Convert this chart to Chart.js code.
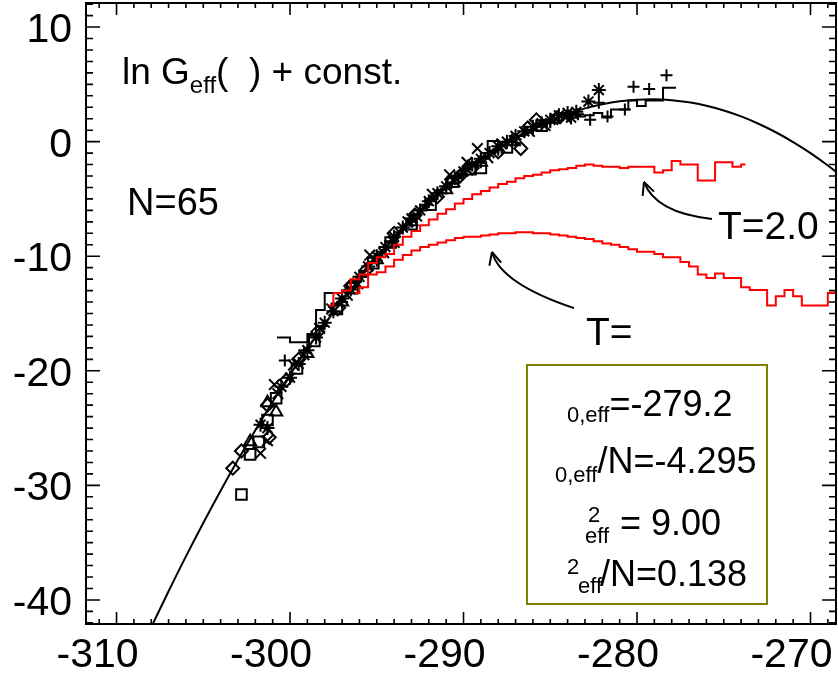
<!DOCTYPE html>
<html>
<head>
<meta charset="utf-8">
<script src="https://cdn.jsdelivr.net/npm/chart.js@4.4.0/dist/chart.umd.min.js"></script>
<style>
  html, body { margin: 0; padding: 0; background: #fff; }
  canvas { display: block; }
</style>
</head>
<body>
<canvas id="chart" width="838" height="679"></canvas>
<script>
// axis ticks
const xTicks = [-310, -300, -290, -280, -270];
const yTicks = [-40, -30, -20, -10, 0, 10];

// fitted gaussian curve
const curveX = [-308,-307,-306,-305,-304,-303,-302,-301,-300,-299,-298,-297,-296,-295,-294,-293,-292,-291,-290,-289,-288,-287,-286,-285,-284,-283,-282,-281,-280,-279,-278,-277,-276,-275,-274,-273,-272,-271,-270,-269,-268];
const curveY = [-42.38,-39.24,-36.20,-33.28,-30.47,-27.77,-25.18,-22.70,-20.34,-18.08,-15.94,-13.90,-11.98,-10.17,-8.47,-6.88,-5.40,-4.04,-2.78,-1.64,-0.60,0.32,1.13,1.83,2.42,2.90,3.26,3.52,3.66,3.70,3.62,3.43,3.13,2.72,2.20,1.56,0.82,-0.04,-1.00,-2.08,-3.27];

// black histogram (bin centres)
const histBlackX = [-300.75,-300.25,-299.75,-299.25,-298.75,-298.25,-297.75,-297.25,-296.75,-296.25,-295.75,-295.25,-294.75,-294.25,-293.75,-293.25,-292.75,-292.25,-291.75,-291.25,-290.75,-290.25,-289.75,-289.25,-288.75,-288.25,-287.75,-287.25,-286.75,-286.25,-285.75,-285.25,-284.75,-284.25,-283.75,-283.25,-282.75,-282.25,-281.75,-281.25,-280.75,-280.25,-279.75,-279.25,-278.75,-278.25,-277.75];
const histBlackY = [-17.1,-17.1,-17.5,-17.5,-16.8,-14.7,-13.2,-13.2,-13.0,-12.3,-11.3,-10.5,-9.6,-8.7,-7.9,-7.2,-6.4,-5.6,-4.9,-4.2,-3.6,-3.0,-2.4,-1.8,-1.3,-0.8,-0.3,0.1,0.5,0.9,1.3,1.6,1.9,2.2,2.3,2.2,2.3,2.5,2.1,2.8,2.8,3.6,3.1,3.6,3.6,4.7,4.7];

// red histogram T=2.0
const histT2X = [-297.75,-297.25,-296.75,-296.25,-295.75,-295.25,-294.75,-294.25,-293.75,-293.25,-292.75,-292.25,-291.75,-291.25,-290.75,-290.25,-289.75,-289.25,-288.75,-288.25,-287.75,-287.25,-286.75,-286.25,-285.75,-285.25,-284.75,-284.25,-283.75,-283.25,-282.75,-282.25,-281.75,-281.25,-280.75,-280.25,-279.75,-279.25,-278.75,-278.25,-277.75,-277.25,-276.75,-276.25,-275.75,-275.25,-274.75,-274.25,-273.75];
const histT2Y = [-14.3,-13.2,-13.0,-12.0,-11.6,-10.6,-10.1,-9.8,-9.0,-8.3,-7.8,-7.3,-6.8,-6.3,-5.9,-5.4,-5.0,-4.6,-4.3,-4.0,-3.7,-3.5,-3.2,-3.0,-2.9,-2.7,-2.5,-2.4,-2.3,-2.1,-2.0,-2.1,-2.2,-2.2,-2.3,-2.2,-2.2,-2.2,-2.7,-2.5,-1.7,-2.0,-2.0,-3.4,-3.4,-1.8,-1.8,-2.2,-2.0];

// red histogram, lower temperature
const histTlX = [-296.25,-295.75,-295.25,-294.75,-294.25,-293.75,-293.25,-292.75,-292.25,-291.75,-291.25,-290.75,-290.25,-289.75,-289.25,-288.75,-288.25,-287.75,-287.25,-286.75,-286.25,-285.75,-285.25,-284.75,-284.25,-283.75,-283.25,-282.75,-282.25,-281.75,-281.25,-280.75,-280.25,-279.75,-279.25,-278.75,-278.25,-277.75,-277.25,-276.75,-276.25,-275.75,-275.25,-274.75,-274.25,-273.75,-273.25,-272.75,-272.25,-271.75,-271.25,-270.75,-270.25,-269.75,-269.25,-268.75,-268.25];
const histTlY = [-13.2,-12.7,-11.6,-11.4,-10.9,-10.3,-9.9,-9.5,-9.2,-9.0,-8.8,-8.6,-8.4,-8.3,-8.3,-8.2,-8.1,-8.0,-8.0,-7.9,-7.9,-8.0,-8.0,-8.1,-8.2,-8.3,-8.4,-8.5,-8.7,-8.9,-9.0,-9.2,-9.4,-9.6,-9.6,-9.8,-10.1,-10.1,-10.5,-10.9,-11.6,-11.9,-11.5,-11.9,-11.9,-12.7,-12.95,-12.95,-14.3,-13.5,-12.95,-13.5,-14.3,-14.3,-14.3,-13.2,-13.2];

// symbols
const starX = [-301.7,-301.3,-300.5,-300.0,-299.5,-299.0,-298.5,-298.0,-297.5,-297.0,-296.5,-296.0,-295.5,-295.0,-294.5,-294.0,-293.5,-293.0,-292.5,-292.0,-291.5,-291.0,-290.5,-290.0,-289.5,-289.0,-288.5,-288.0,-287.5,-287.0,-286.5,-286.0,-285.5,-285.0,-284.5,-284.0,-283.8,-283.5,-282.8,-282.2];
const starY = [-24.7,-25.0,-21.4,-20.6,-19.4,-18.2,-17.1,-15.8,-14.8,-13.7,-12.9,-11.8,-10.9,-10.0,-9.2,-8.3,-7.5,-6.7,-6.0,-5.2,-4.5,-3.9,-3.2,-2.6,-2.0,-1.5,-1.0,-0.4,0.0,0.5,0.9,1.3,1.6,1.9,2.3,2.5,2.1,2.6,3.5,4.5];
const plusX = [-300.3,-299.2,-298.1,-297.0,-295.9,-295.0,-294.1,-293.0,-292.1,-291.0,-290.1,-289.0,-288.0,-287.0,-286.0,-285.0,-284.0,-283.4,-282.7,-282.2,-281.7,-280.7,-280.2,-279.3,-278.3];
const plusY = [-19.1,-18.4,-16.1,-14.0,-11.8,-10.4,-8.8,-7.0,-5.5,-4.1,-2.8,-1.8,-0.7,0.2,1.0,1.7,2.3,2.4,1.9,3.4,2.2,2.8,4.8,4.6,5.8];
const crossX = [-301.7,-301.3,-300.9,-300.7,-299.8,-299.2,-298.3,-297.6,-296.7,-296.1,-295.4,-294.6,-294.0,-293.2,-292.7,-291.8,-290.8,-290.5,-289.8,-289.2,-288.6,-287.8,-287.0,-286.2,-285.3,-284.7,-284.1];
const crossY = [-27.2,-26.1,-21.2,-22.0,-19.5,-18.6,-16.3,-14.6,-13.4,-12.4,-9.9,-9.7,-8.8,-7.0,-6.5,-4.6,-2.9,-3.5,-1.8,-0.6,-1.4,-0.2,0.1,0.9,1.4,2.0,2.1];
const diamondX = [-303.3,-302.8,-301.2,-301.3,-300.2,-299.5,-298.4,-297.2,-296.5,-295.6,-294.0,-292.8,-291.5,-290.2,-289.5,-288.0,-286.7,-286.3,-285.8,-284.6];
const diamondY = [-28.5,-27.0,-25.8,-23.0,-20.8,-19.0,-16.6,-14.5,-12.6,-11.2,-8.0,-6.4,-4.8,-3.0,-2.3,-0.9,-0.6,1.2,1.9,2.1];
const squareX = [-302.8,-302.3,-301.8,-301.3,-300.8,-299.6,-298.6,-297.3,-296.4,-295.2,-294.2,-293.0,-291.9,-290.6,-289.6,-289.0,-288.3,-287.5,-285.5];
const squareY = [-30.8,-27.3,-26.2,-24.3,-22.4,-19.8,-17.4,-14.6,-12.8,-10.6,-8.8,-7.2,-5.5,-3.5,-2.4,-2.3,-0.4,-0.5,1.4];
const triangleX = [-302.3,-300.8,-301.3,-299.0,-297.0,-295.0,-293.0,-291.0,-289.0,-287.2];
const triangleY = [-26.2,-23.6,-22.8,-18.5,-14.0,-10.3,-7.0,-4.2,-1.8,0.0];

// arrows in data units: start, control, tip
const arrowT2 = [[-275.68, -6.75], [-278.93, -6.23], [-279.6, -3.52]];
const arrowTl = [[-283.63, -14.53], [-287.87, -12.38], [-288.36, -9.63]];

const FONT = "'Liberation Sans', Arial, Helvetica, sans-serif";
const pts = (xs, ys) => xs.map((x, i) => ({ x: x, y: ys[i] }));

function symbolSet(xs, ys, style, r) {
    return {
        type: "scatter",
        data: pts(xs, ys),
        pointStyle: style,
        pointRadius: r,
        pointBorderColor: "#000",
        pointBackgroundColor: "rgba(0,0,0,0)",
        pointBorderWidth: 2,
        showLine: false
    };
}

function stepSet(xs, ys, color) {
    return {
        type: "line",
        data: pts(xs, ys),
        stepped: "middle",
        borderColor: color,
        borderWidth: 2,
        pointRadius: 0,
        fill: false
    };
}

// frame, inward ticks on all four sides, tick labels
const framePlugin = {
    id: "frame",
    afterDatasetsDraw(chart) {
        const { ctx, chartArea: a, scales: { x, y } } = chart;
        ctx.save();
        ctx.strokeStyle = "#000";
        ctx.lineWidth = 2;
        ctx.strokeRect(a.left, a.top, a.right - a.left, a.bottom - a.top);
        ctx.lineWidth = 1.6;
        ctx.beginPath();
        for (let v = Math.ceil(x.min); v <= x.max; v++) {
            const px = x.getPixelForValue(v);
            const len = v % 10 === 0 ? 12 : 5;
            ctx.moveTo(px, a.bottom); ctx.lineTo(px, a.bottom - len);
            ctx.moveTo(px, a.top); ctx.lineTo(px, a.top + len);
        }
        for (let v = Math.ceil(y.min); v <= y.max; v++) {
            const py = y.getPixelForValue(v);
            const len = v % 10 === 0 ? 14 : 7;
            ctx.moveTo(a.left, py); ctx.lineTo(a.left + len, py);
            ctx.moveTo(a.right, py); ctx.lineTo(a.right - len, py);
        }
        ctx.stroke();

        ctx.fillStyle = "#000";
        ctx.font = "41px " + FONT;
        ctx.textBaseline = "alphabetic";
        ctx.textAlign = "center";
        xTicks.forEach(v => ctx.fillText(String(v), x.getPixelForValue(v) - 19, a.bottom + 43));
        ctx.textAlign = "right";
        yTicks.forEach(v => ctx.fillText(String(v), a.left - 14, y.getPixelForValue(v) + 15));
        ctx.restore();
    }
};

function seq(ctx, x, parts) {
    // parts: [text, size, baseline]
    for (const [t, size, base] of parts) {
        ctx.font = size + "px " + FONT;
        ctx.fillText(t, x, base);
        x += ctx.measureText(t).width;
    }
    return x;
}

function drawArrow(ctx, x, y, arr) {
    const p = arr.map(([u, v]) => [x.getPixelForValue(u), y.getPixelForValue(v)]);
    ctx.beginPath();
    ctx.moveTo(p[0][0], p[0][1]);
    ctx.quadraticCurveTo(p[1][0], p[1][1], p[2][0], p[2][1]);
    ctx.stroke();
    const ang = Math.atan2(p[2][1] - p[1][1], p[2][0] - p[1][0]);
    ctx.beginPath();
    for (const d of [-0.45, 0.45]) {
        ctx.moveTo(p[2][0], p[2][1]);
        ctx.lineTo(p[2][0] - 14 * Math.cos(ang + d), p[2][1] - 14 * Math.sin(ang + d));
    }
    ctx.stroke();
}

const labelPlugin = {
    id: "labels",
    afterDraw(chart) {
        const { ctx, scales: { x, y } } = chart;
        ctx.save();
        ctx.fillStyle = "#000";
        ctx.textBaseline = "alphabetic";
        ctx.textAlign = "left";

        seq(ctx, 122, [["ln G", 37, 84], ["eff", 24, 93], ["(  ) + const.", 37, 84]]);
        seq(ctx, 127, [["N=65", 38, 215]]);
        seq(ctx, 718, [["T=2.0", 39, 239]]);
        seq(ctx, 586, [["T=", 39, 345]]);

        ctx.strokeStyle = "#000";
        ctx.lineWidth = 2;
        drawArrow(ctx, x, y, arrowT2);
        drawArrow(ctx, x, y, arrowTl);

        // result box
        ctx.strokeStyle = "#808000";
        ctx.lineWidth = 2;
        ctx.strokeRect(527, 365, 240, 239);
        seq(ctx, 567, [["0,eff", 22, 422], ["=-279.2", 36, 416]]);
        seq(ctx, 555, [["0,eff", 22, 482], ["/N=-4.295", 36, 473]]);
        seq(ctx, 588, [["2", 22, 522]]);
        seq(ctx, 585, [["eff", 22, 543]]);
        seq(ctx, 620, [["= 9.00", 36, 535]]);
        seq(ctx, 567, [["2", 22, 574]]);
        seq(ctx, 578, [["eff", 22, 593]]);
        seq(ctx, 600, [["/N=0.138", 36, 586]]);
        ctx.restore();
    }
};

new Chart(document.getElementById("chart").getContext("2d"), {
    type: "scatter",
    data: {
        datasets: [
            stepSet(histT2X, histT2Y, "#ff0000"),
            stepSet(histTlX, histTlY, "#ff0000"),
            symbolSet(starX, starY, "star", 7),
            symbolSet(plusX, plusY, "cross", 6),
            symbolSet(crossX, crossY, "crossRot", 7.5),
            symbolSet(diamondX, diamondY, "rectRot", 6.5),
            symbolSet(squareX, squareY, "rect", 7.5),
            symbolSet(triangleX, triangleY, "triangle", 7),
            stepSet(histBlackX, histBlackY, "#000"),
            {
                type: "line",
                data: pts(curveX, curveY),
                borderColor: "#000",
                borderWidth: 2,
                pointRadius: 0,
                tension: 0.4,
                fill: false
            }
        ]
    },
    options: {
        responsive: false,
        animation: false,
        layout: { autoPadding: false, padding: { top: 3, right: 2, left: 0, bottom: 0 } },
        plugins: { legend: { display: false }, tooltip: { enabled: false } },
        scales: {
            x: {
                type: "linear",
                min: -311.76,
                max: -268.53,
                grid: { display: false, drawTicks: false },
                border: { display: false },
                ticks: { display: false },
                afterBuildTicks: ax => { ax.ticks = xTicks.map(v => ({ value: v })); },
                afterFit: ax => { ax.height = 55; ax.paddingLeft = 0; ax.paddingRight = 0; }
            },
            y: {
                type: "linear",
                min: -42.1,
                max: 12.1,
                grid: { display: false, drawTicks: false },
                border: { display: false },
                ticks: { display: false },
                afterBuildTicks: ax => { ax.ticks = yTicks.map(v => ({ value: v })); },
                afterFit: ax => { ax.width = 86; ax.paddingTop = 0; ax.paddingBottom = 0; }
            }
        }
    },
    plugins: [framePlugin, labelPlugin]
});
</script>
</body>
</html>
